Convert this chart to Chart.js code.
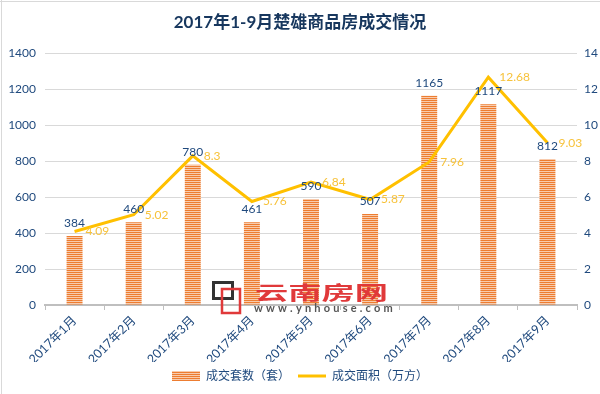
<!DOCTYPE html>
<html><head><meta charset="utf-8">
<script src="https://cdn.jsdelivr.net/npm/chart.js@4/dist/chart.umd.min.js"></script>
<style>html,body{margin:0;padding:0;background:#fff;}#wrap{position:relative;width:600px;height:394px;}</style>
</head><body><div id="wrap"><canvas id="c" width="600" height="394"></canvas></div>
<script>
const titleText = '2017年1-9月楚雄商品房成交情况';
const categories = ['2017年1月','2017年2月','2017年3月','2017年4月','2017年5月','2017年6月','2017年7月','2017年8月','2017年9月'];
const unitsLabel = '成交套数（套）';
const unitsSold = [384, 460, 780, 461, 590, 507, 1165, 1117, 812];
const areaLabel = '成交面积（万方）';
const areaSold = [4.09, 5.02, 8.3, 5.76, 6.84, 5.87, 7.96, 12.68, 9.03];
const leftTicks = [0, 200, 400, 600, 800, 1000, 1200, 1400];
const rightTicks = [0, 2, 4, 6, 8, 10, 12, 14];

const FONT = "Lato, 'Noto Sans CJK SC', sans-serif";
const TXT = '#1F497D';

const pc = document.createElement('canvas');
pc.width = 4; pc.height = 2;
const pctx = pc.getContext('2d');
pctx.fillStyle = '#F8CBAD'; pctx.fillRect(0,0,4,2);
pctx.fillStyle = '#ED7D31'; pctx.fillRect(0,0,4,1);
const stripe = document.getElementById('c').getContext('2d').createPattern(pc, 'repeat');

const labelPlugin = {
  id: 'valueLabels',
  afterDatasetsDraw(chart) {
    const ctx = chart.ctx;
    ctx.save();
    ctx.font = '12px ' + FONT;
    ctx.textBaseline = 'middle';
    const bm = chart.getDatasetMeta(0);
    ctx.fillStyle = TXT; ctx.textAlign = 'center';
    bm.data.forEach((el, i) => ctx.fillText(String(unitsSold[i]), el.x, el.y - 13));
    const lm = chart.getDatasetMeta(1);
    ctx.fillStyle = '#F7C23A'; ctx.textAlign = 'left';
    lm.data.forEach((el, i) => ctx.fillText(String(areaSold[i]), el.x + 11, el.y));
    ctx.restore();
  }
};

const watermark = {
  id: 'watermark',
  afterDatasetsDraw(chart) {
    const ctx = chart.ctx;
    ctx.save();
    ctx.lineWidth = 3; ctx.strokeStyle = '#333';
    ctx.strokeRect(213.5, 282.5, 19, 16);
    ctx.lineWidth = 2.5; ctx.strokeStyle = '#E0393A';
    ctx.strokeRect(222, 289, 18, 24);
    ctx.fillStyle = '#E0393A';
    ctx.font = 'bold 19px ' + FONT;
    ctx.textBaseline = 'middle'; ctx.textAlign = 'left';
    ctx.translate(255, 294);
    ctx.scale(1.75, 1);
    ctx.fillText('云南房网', 0, 0);
    ctx.restore();
    ctx.save();
    ctx.fillStyle = '#555';
    ctx.font = 'bold 11px ' + FONT;
    ctx.textBaseline = 'middle'; ctx.textAlign = 'left';
    const s = 'www.ynhouse.com';
    let x = 254;
    for (const ch of s) { ctx.fillText(ch, x, 308); x += ctx.measureText(ch).width + 3.2; }
    ctx.restore();
    ctx.save();
    ctx.strokeStyle = '#D9D9D9'; ctx.lineWidth = 1;
    ctx.beginPath(); ctx.moveTo(0, 1.5); ctx.lineTo(600, 1.5); ctx.moveTo(1.5, 0); ctx.lineTo(1.5, 394); ctx.stroke();
    ctx.restore();
  }
};

new Chart(document.getElementById('c'), {
  type: 'bar',
  data: {
    labels: categories,
    datasets: [
      { type: 'bar', label: unitsLabel, data: unitsSold, backgroundColor: stripe, borderWidth: 0,
        categoryPercentage: 1, barPercentage: 0.27, yAxisID: 'y', order: 1 },
      { type: 'line', label: areaLabel, data: areaSold, borderColor: '#FFC000', backgroundColor: '#FFC000',
        borderWidth: 3, pointRadius: 0, tension: 0, yAxisID: 'y1', order: 0 }
    ]
  },
  options: {
    responsive: false, animation: false,
    layout: { padding: { left: 0, right: 0, top: 0, bottom: 2 } },
    plugins: {
      tooltip: { enabled: false },
      title: { display: true, text: titleText, color: '#17375E',
        font: { family: FONT, size: 17, weight: 'bold' }, padding: { top: 12, bottom: 21 } },
      legend: {
        position: 'bottom',
        labels: {
          color: TXT, font: { family: FONT, size: 12 }, usePointStyle: true, pointStyleWidth: 28, boxHeight: 10, padding: 8,
          generateLabels(chart) {
            return [
              { text: unitsLabel, fillStyle: stripe, strokeStyle: 'transparent', lineWidth: 0, pointStyle: 'rect', datasetIndex: 0, fontColor: TXT },
              { text: areaLabel, fillStyle: '#FFC000', strokeStyle: '#FFC000', lineWidth: 3, pointStyle: 'line', datasetIndex: 1, fontColor: TXT }
            ];
          }
        }
      }
    },
    scales: {
      x: {
        offset: true,
        grid: { display: true, drawOnChartArea: false, drawTicks: true, tickLength: 5, color: '#BFBFBF', offset: true },
        border: { display: true, color: '#BFBFBF', width: 2 },
        ticks: { color: TXT, font: { family: FONT, size: 12.5 }, minRotation: 45, maxRotation: 45, padding: 3 },
        afterFit(s) { s.height = 57; }
      },
      y: {
        position: 'left', min: 0, max: 1400,
        afterBuildTicks(s) { s.ticks = leftTicks.map(v => ({ value: v })); },
        grid: { color: '#D9D9D9', drawTicks: false },
        border: { display: false },
        ticks: { color: TXT, font: { family: FONT, size: 12 }, padding: 9, callback: v => String(v) },
        afterFit(s) { s.width = 45; }
      },
      y1: {
        position: 'right', min: 0, max: 14,
        afterBuildTicks(s) { s.ticks = rightTicks.map(v => ({ value: v })); },
        grid: { drawOnChartArea: false, drawTicks: false },
        border: { display: false },
        ticks: { color: TXT, font: { family: FONT, size: 12 }, padding: 7, callback: v => String(v) },
        afterFit(s) { s.width = 23; }
      }
    }
  },
  plugins: [labelPlugin, watermark]
});
</script></body></html>
